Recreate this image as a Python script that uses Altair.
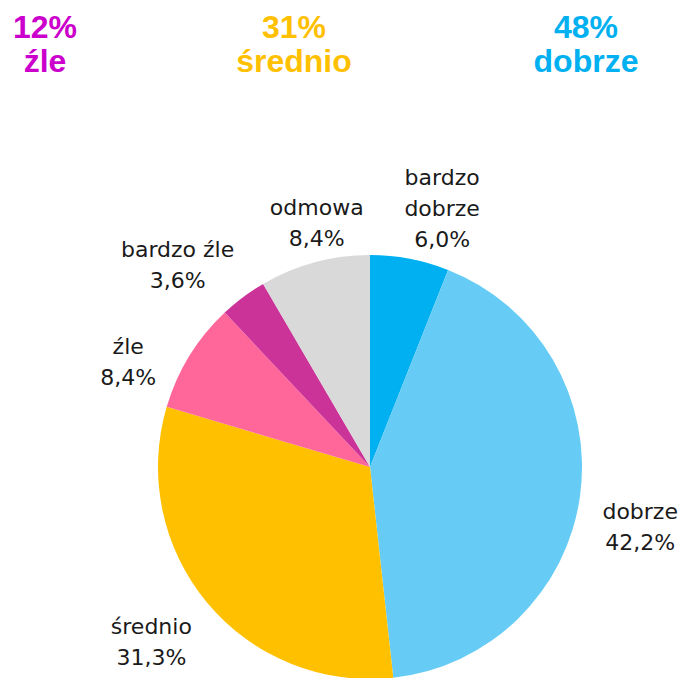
import math
import altair as alt
import numpy as np
import pandas as pd

# ---- data ----
categories = ["bardzo dobrze", "dobrze", "średnio", "źle", "bardzo źle", "odmowa"]
values = [6.0, 42.2, 31.3, 8.4, 3.6, 8.4]
label_names = ["bardzo\ndobrze", "dobrze", "średnio", "źle", "bardzo źle", "odmowa"]

# ---- styles / layout ----
colors = ["#00B0F0", "#66CCF5", "#FFC000", "#FF6699", "#CC3399", "#D9D9D9"]
label_shift_deg = [3.2, 1.9, 3.7, -5.2, -4.8, 3.5]
label_radius = [298, 274, 271, 270, 290, 264]
W, H = 673, 670
cx, cy, R = 362, 459, 212

total = sum(values)
v = np.array(values)
cum = np.cumsum(v)
mid_deg = (cum - v / 2) / total * 360 + np.array(label_shift_deg)

def pl(x):
    return f"{x:.1f}".replace(".", ",") + "%"

df = pd.DataFrame({
    "cat": categories,
    "value": values,
    "idx": list(range(len(categories))),
    "label": [f"{n}\n{pl(x)}" for n, x in zip(label_names, values)],
    "lab_pos": mid_deg,
    "lab_r": label_radius,
})

color_scale = alt.Scale(domain=categories, range=colors)

arcs = alt.Chart(df).mark_arc(radius=R, stroke=None).encode(
    theta=alt.Theta("value:Q", stack=True),
    order=alt.Order("idx:Q"),
    color=alt.Color("cat:N", scale=color_scale, legend=None),
    x=alt.value(cx),
    y=alt.value(cy),
)

labels = alt.Chart(df).mark_text(
    font="DejaVu Sans", fontSize=22, lineBreak="\n", lineHeight=31,
    align="center", baseline="middle", color="#1a1a1a",
).encode(
    theta=alt.Theta("lab_pos:Q", stack=False, scale=alt.Scale(domain=[0, 360], range=[0, 2 * math.pi])),
    radius=alt.Radius("lab_r:Q", scale=None),
    text="label:N",
    x=alt.value(cx),
    y=alt.value(cy),
)

# header summary
zle = round(values[3] + values[4])
sred = round(values[2])
dobr = round(values[0] + values[1])
headers = [
    (f"{zle}%\nźle", "#CC00CC", 37),
    (f"{sred}%\nśrednio", "#FFC000", 286),
    (f"{dobr}%\ndobrze", "#00B0F0", 578),
]
head_layers = []
for txt, col, hx in headers:
    head_layers.append(
        alt.Chart(pd.DataFrame({"t": [txt]})).mark_text(
            font="Liberation Sans", fontSize=32, fontWeight="bold", lineBreak="\n",
            lineHeight=34, align="center", baseline="middle", color=col,
        ).encode(x=alt.value(hx), y=alt.value(20), text="t:N")
    )

chart = alt.layer(arcs, labels, *head_layers).resolve_scale(theta="independent").properties(
    width=W, height=H, autosize=alt.AutoSizeParams(type="none"), padding=0
).configure_view(stroke=None)

chart.save("out.html", embed_options={"renderer": "svg", "actions": False})
